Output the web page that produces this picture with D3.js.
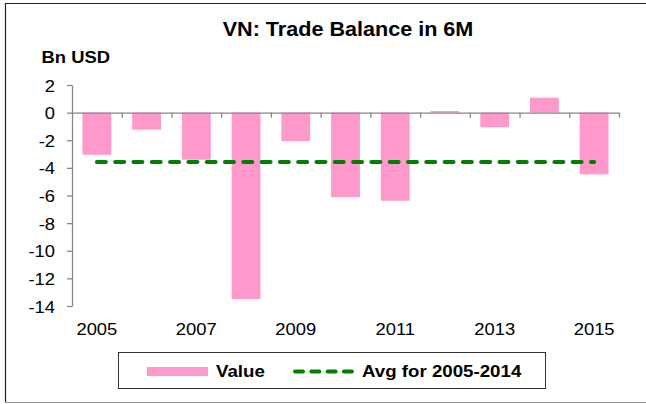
<!DOCTYPE html>
<html>
<head>
<meta charset="utf-8">
<script src="https://cdn.jsdelivr.net/npm/d3@7"></script>
<style>
  html, body { margin: 0; padding: 0; background: #fff; }
  svg { display: block; font-family: "Liberation Sans", Arial, sans-serif; }
</style>
</head>
<body>
<svg id="chart" width="646" height="404"></svg>
<script>
// Data.
var years = ["2005", "2006", "2007", "2008", "2009", "2010", "2011", "2012", "2013", "2014", "2015"];
var values = [-3.05, -1.23, -3.41, -13.5, -2.07, -6.12, -6.38, 0.12, -1.06, 1.08, -4.47];
var avgValue = -3.57;
var yTicks = [2, 0, -2, -4, -6, -8, -10, -12, -14];
var xTickLabels = ["2005", "2007", "2009", "2011", "2013", "2015"];

(function () {
  var svg = d3.select("#chart");

  // Plot area.
  var plotLeft = 72, plotRight = 619, plotTop = 85, plotBottom = 306;
  var axisColor = "#868686";
  var barColor = "#ff99cc";
  var avgColor = "#008000";

  var x = d3.scaleBand()
    .domain(years)
    .range([plotLeft, plotRight])
    .paddingInner(0.42)
    .paddingOuter(0.21);

  var y = d3.scaleLinear()
    .domain([-14, 2])
    .range([plotBottom, plotTop]);

  // Outer frame (left/top dark, bottom grey).
  svg.append("line").attr("x1", 5.5).attr("x2", 5.5).attr("y1", 3).attr("y2", 402)
    .attr("stroke", "#222").attr("stroke-width", 1.2);
  svg.append("line").attr("x1", 5).attr("x2", 646).attr("y1", 3.5).attr("y2", 3.5)
    .attr("stroke", "#222").attr("stroke-width", 1.2);
  svg.append("line").attr("x1", 5).attr("x2", 646).attr("y1", 402.5).attr("y2", 402.5)
    .attr("stroke", "#999").attr("stroke-width", 1.2);

  // Title and unit label.
  svg.append("text")
    .attr("transform", "translate(348,36) scale(1.08,1)")
    .attr("text-anchor", "middle")
    .style("font-size", "20px")
    .style("font-weight", "bold")
    .text("VN: Trade Balance in 6M");

  svg.append("text")
    .attr("transform", "translate(41.5,62.5) scale(1.15,1)")
    .style("font-size", "16px")
    .style("font-weight", "bold")
    .text("Bn USD");

  // Bars.
  svg.selectAll(".bar")
    .data(years)
    .enter()
    .append("rect")
    .attr("class", "bar")
    .attr("x", d => x(d))
    .attr("width", x.bandwidth())
    .attr("y", (d, i) => y(Math.max(0, values[i])))
    .attr("height", (d, i) => Math.abs(y(values[i]) - y(0)))
    .attr("fill", barColor);

  // Y axis.
  var yAxisG = svg.append("g")
    .attr("transform", "translate(" + plotLeft + ",0)")
    .call(d3.axisLeft(y).tickValues(yTicks).tickSize(5).tickSizeOuter(0));
  yAxisG.select(".domain").attr("stroke", axisColor).attr("stroke-width", 1.3);
  yAxisG.selectAll(".tick line").attr("stroke", axisColor).attr("stroke-width", 1.3);
  yAxisG.selectAll(".tick text")
    .attr("x", 0)
    .attr("dy", null)
    .attr("y", 0)
    .attr("fill", "#000")
    .style("font-size", "16px")
    .style("font-family", "'Liberation Sans', Arial, sans-serif")
    .attr("transform", "translate(-17,6) scale(1.15,1)")
    .text(d => d < 0 ? "-" + Math.abs(d) : d);

  // X axis along zero, ticks at category boundaries.
  var xEdges = d3.scaleLinear().domain([0, years.length]).range([plotLeft, plotRight]);
  var xAxisG = svg.append("g")
    .attr("transform", "translate(0," + y(0) + ")")
    .call(d3.axisBottom(xEdges).tickValues(d3.range(1, years.length + 1)).tickSize(5).tickSizeOuter(0).tickFormat(""));
  xAxisG.select(".domain").attr("stroke", axisColor).attr("stroke-width", 1.3);
  xAxisG.selectAll(".tick line").attr("stroke", axisColor).attr("stroke-width", 1.3);

  // Category labels below plot.
  svg.selectAll(".xlab")
    .data(xTickLabels)
    .enter()
    .append("text")
    .attr("class", "xlab")
    .attr("text-anchor", "middle")
    .attr("transform", d => "translate(" + (x(d) + x.bandwidth() / 2) + ",335) scale(1.15,1)")
    .style("font-size", "16px")
    .text(d => d);

  // Average line.
  svg.append("line")
    .attr("x1", x(years[0]) + x.bandwidth() / 2)
    .attr("x2", x(years[years.length - 1]) + x.bandwidth() / 2)
    .attr("y1", y(avgValue))
    .attr("y2", y(avgValue))
    .attr("stroke", avgColor)
    .attr("stroke-width", 4)
    .attr("stroke-linecap", "round")
    .attr("stroke-dasharray", "9,9.3");

  // Legend.
  var legend = svg.append("g");
  legend.append("rect")
    .attr("x", 118.5).attr("y", 352.5).attr("width", 427).attr("height", 36)
    .attr("fill", "none").attr("stroke", "#333").attr("stroke-width", 1);
  legend.append("rect")
    .attr("x", 147).attr("y", 367).attr("width", 61).attr("height", 9)
    .attr("fill", barColor);
  legend.append("text")
    .attr("transform", "translate(216,377) scale(1.1,1)")
    .style("font-size", "17px").style("font-weight", "bold")
    .text("Value");
  legend.append("line")
    .attr("x1", 295).attr("x2", 354).attr("y1", 371.5).attr("y2", 371.5)
    .attr("stroke", avgColor).attr("stroke-width", 4)
    .attr("stroke-linecap", "round").attr("stroke-dasharray", "8,8.3");
  legend.append("text")
    .attr("transform", "translate(362,377) scale(1.1,1)")
    .style("font-size", "17px").style("font-weight", "bold")
    .text("Avg for 2005-2014");
})();
</script>
</body>
</html>
